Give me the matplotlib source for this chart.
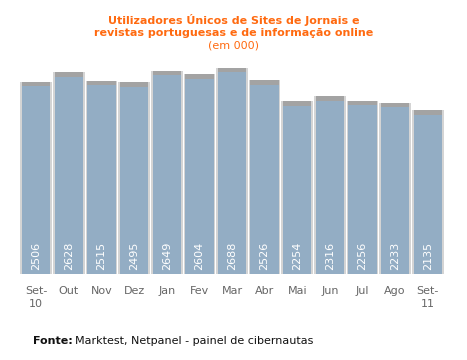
import matplotlib
matplotlib.use('Agg')
import matplotlib.pyplot as plt

# Data
months = ['Set-\n10', 'Out', 'Nov', 'Dez', 'Jan', 'Fev', 'Mar',
          'Abr', 'Mai', 'Jun', 'Jul', 'Ago', 'Set-\n11']
values = [2506, 2628, 2515, 2495, 2649, 2604, 2688,
          2526, 2254, 2316, 2256, 2233, 2135]

bar_color = '#93adc4'
cap_color = '#a3a3a3'
edge_color = '#d4d4d4'

fig = plt.figure(figsize=(4.67, 3.6), dpi=100)
fig.patch.set_facecolor('white')
ax = fig.add_axes([20/467, 1 - 274/360, 424/467, 215/360])

x = list(range(len(values)))

# light grey shadow around bars
ax.bar(x, values, width=0.97, color=edge_color, zorder=1)
# main bars
ax.bar(x, values, width=0.87, color=bar_color, zorder=2)
# grey cap on top
cap = 60
ax.bar(x, [cap] * len(values), bottom=[v - cap for v in values], width=0.87,
       color=cap_color, zorder=3)

for xi, v in zip(x, values):
    ax.text(xi, 55, str(v), rotation=90, ha='center', va='bottom',
            color='white', fontsize=8, zorder=4)

ax.set_xlim(-0.5, len(values) - 0.5)
ax.set_ylim(0, 2800)
ax.set_xticks(x)
ax.set_xticklabels(months, color='#666666', fontsize=8, linespacing=1.4)
ax.tick_params(axis='x', length=0, pad=8.5)
ax.set_yticks([])
for s in ax.spines.values():
    s.set_visible(False)
ax.set_facecolor('white')

fig.text(0.5, 1 - 26/360, 'Utilizadores Únicos de Sites de Jornais e\nrevistas portuguesas e de informação online',
         ha='center', va='center', color='#ff6a10', fontsize=8, fontweight='bold', linespacing=1.35)
fig.text(0.5, 1 - 46/360, '(em 000)', ha='center', va='center', color='#ff6a10', fontsize=8)

fig.text(33/467, 1 - 341/360, 'Fonte:', ha='left', va='center', fontsize=8, fontweight='bold', color='#111111')
fig.text(75/467, 1 - 341/360, 'Marktest, Netpanel - painel de cibernautas', ha='left', va='center',
         fontsize=8, color='#111111')

fig.savefig('out.png', dpi=100)
